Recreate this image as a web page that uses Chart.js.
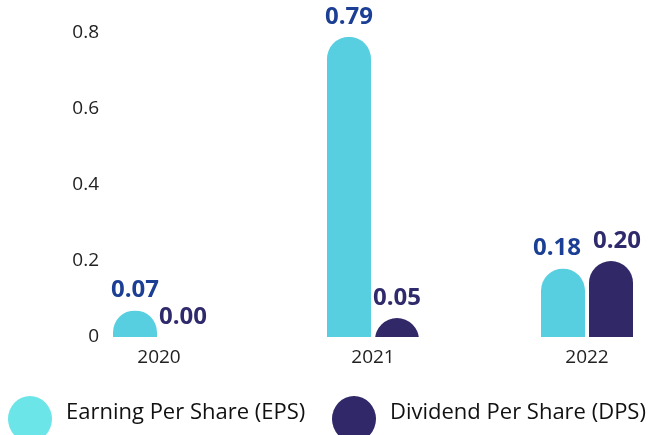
<!DOCTYPE html>
<html>
<head>
<meta charset="utf-8">
<script src="https://cdn.jsdelivr.net/npm/chart.js@4/dist/chart.umd.min.js"></script>
<style>
  html, body { margin: 0; padding: 0; background: #fff; }
  #wrap { width: 649px; height: 435px; position: relative; }
</style>
</head>
<body>
<div id="wrap"><canvas id="c" width="649" height="435"></canvas></div>
<script>
const categories = ['2020', '2021', '2022'];
const epsValues = [0.07, 0.79, 0.18];
const dpsValues = [0.00, 0.05, 0.20];
const seriesNames = ['Earning Per Share (EPS)', 'Dividend Per Share (DPS)'];
const yTicks = [0, 0.2, 0.4, 0.6, 0.8];

const FONT = '"Open Sans", sans-serif';

// Dome-topped bars: semicircle top of radius = half bar width, clipped to bar box
Chart.BarElement.prototype.draw = function (ctx) {
  const p = this.getProps(['x', 'y', 'base', 'width']);
  const left = p.x - p.width / 2;
  const top = Math.min(p.y, p.base);
  const bottom = Math.max(p.y, p.base);
  const h = bottom - top;
  if (h <= 0.5) return;
  const r = p.width / 2;
  ctx.save();
  ctx.beginPath();
  ctx.rect(left, top, p.width, h);
  ctx.clip();
  ctx.fillStyle = this.options.backgroundColor;
  ctx.beginPath();
  ctx.moveTo(left, bottom);
  ctx.lineTo(left, top + r);
  ctx.arc(p.x, top + r, r, Math.PI, 0, false);
  ctx.lineTo(left + p.width, bottom);
  ctx.closePath();
  ctx.fill();
  ctx.restore();
};

const labelPlugin = {
  id: 'valueLabels',
  afterDatasetsDraw(chart) {
    const ctx = chart.ctx;
    const colors = ['#1B3F94', '#2F2A6B'];
    ctx.save();
    ctx.font = 'bold 24px ' + FONT;
    ctx.textAlign = 'center';
    ctx.textBaseline = 'middle';
    const n = chart.data.labels.length;
    for (let i = 0; i < n; i++) {
      const items = chart.data.datasets.map((ds, di) => {
        const bar = chart.getDatasetMeta(di).data[i];
        const text = ds.data[i].toFixed(2);
        return { text, x: bar.x, y: bar.y - 20, w: ctx.measureText(text).width, color: colors[di] };
      });
      // push apart labels of the same category if they collide
      for (let k = 1; k < items.length; k++) {
        const a = items[k - 1], b = items[k];
        const need = (a.w + b.w) / 2 + 12;
        const have = b.x - a.x;
        if (have < need && Math.abs(a.y - b.y) < 24) {
          const d = (need - have) / 2;
          a.x -= d; b.x += d;
        }
      }
      items.forEach(it => {
        ctx.fillStyle = it.color;
        ctx.fillText(it.text, it.x, it.y);
      });
    }
    ctx.restore();
  }
};

const legendPlugin = {
  id: 'bigLegend',
  afterDraw(chart) {
    const ctx = chart.ctx;
    const fills = ['#6BE5E8', '#302868'];
    const circleX = [30, 354];
    ctx.save();
    ctx.font = '22px ' + FONT;
    ctx.textBaseline = 'middle';
    ctx.textAlign = 'left';
    chart.data.datasets.forEach((ds, di) => {
      ctx.fillStyle = fills[di];
      ctx.beginPath();
      ctx.ellipse(circleX[di], 419, 22, 23, 0, 0, Math.PI * 2);
      ctx.fill();
      ctx.fillStyle = '#111';
      ctx.fillText(ds.label, circleX[di] + 36, 413);
    });
    ctx.restore();
  }
};

new Chart(document.getElementById('c'), {
  type: 'bar',
  data: {
    labels: categories,
    datasets: [
      {
        label: seriesNames[0],
        data: epsValues,
        backgroundColor: '#58CFE0',
        categoryPercentage: 96 / 214,
        barPercentage: 44 / 48,
        clip: false
      },
      {
        label: seriesNames[1],
        data: dpsValues,
        backgroundColor: '#312868',
        categoryPercentage: 96 / 214,
        barPercentage: 44 / 48,
        clip: false
      }
    ]
  },
  options: {
    responsive: false,
    animation: false,
    layout: { padding: { left: 0, right: 62, top: 33, bottom: 0 } },
    plugins: {
      legend: { display: false },
      tooltip: { enabled: false }
    },
    scales: {
      x: {
        offset: false,
        grid: { display: false, drawTicks: false },
        border: { display: false },
        ticks: { color: '#222', font: { family: FONT, size: 19 }, padding: 9 },
        afterFit(scale) { scale.height = 98; scale.paddingLeft = 0; scale.paddingRight = 0; }
      },
      y: {
        min: 0,
        max: 0.8,
        grid: { display: false, drawTicks: false },
        border: { display: false },
        afterBuildTicks(scale) { scale.ticks = yTicks.map(v => ({ value: v })); },
        ticks: {
          color: '#222',
          font: { family: FONT, size: 19 },
          padding: 60,
          callback: v => (v === 0 ? '0' : String(v))
        },
        afterFit(scale) { scale.width = 159; scale.paddingTop = 0; scale.paddingBottom = 0; }
      }
    }
  },
  plugins: [labelPlugin, legendPlugin]
});
</script>
</body>
</html>
